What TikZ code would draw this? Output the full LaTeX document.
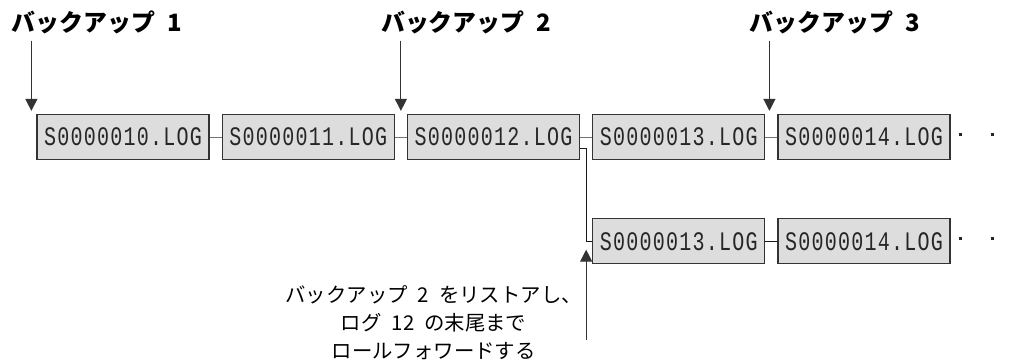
\documentclass[tikz,border=0pt]{standalone}
\usepackage{fontspec}
\setmainfont[WordSpace=2.2]{Noto Sans CJK JP}
\newfontfamily\logfont[FakeStretch=0.75, LetterSpace=4.6]{Liberation Mono}
\usetikzlibrary{arrows.meta,positioning,calc}

\begin{document}
\begin{tikzpicture}[x=1cm,y=1cm,>=Stealth, node distance=0.3cm]
  \tikzset{
    logfile/.style={draw=black!80, line width=0.9pt, fill=gray!27, minimum width=4.3cm, minimum height=1.125cm, inner sep=0pt, text=black!85, font=\logfont\fontsize{19}{20}\selectfont},
    link/.style={draw=black!55, line width=0.7pt},
    branch/.style={draw=black!90, line width=0.7pt},
    pointer/.style={-{Triangle[width=3mm,length=3mm]}, line width=0.8pt, draw=black!80, fill=black!90},
    title/.style={font=\bfseries\fontsize{17}{19}\selectfont, inner sep=0pt, anchor=west},
    annot/.style={align=center, font=\fontsize{14.5}{20}\selectfont, inner sep=0pt}
  }
  \useasboundingbox (0,0) rectangle (25.375,9);
  % main chain of logs
  \node[logfile] (log10) at (3.075,5.575) {S0000010.LOG};
  \node[logfile, right=of log10] (log11) {S0000011.LOG};
  \node[logfile, right=of log11] (log12) {S0000012.LOG};
  \node[logfile, right=of log12] (log13) {S0000013.LOG};
  \node[logfile, right=of log13] (log14) {S0000014.LOG};
  \foreach \a/\b in {log10/log11, log11/log12, log12/log13, log13/log14}
    \draw[link] (\a) -- (\b);
  % new chain after the restore
  \node[logfile, below=1.45cm of log13] (log13b) {S0000013.LOG};
  \node[logfile, right=of log13b] (log14b) {S0000014.LOG};
  \draw[branch] (log13b) -- (log14b);
  \draw[branch] ([yshift=-0.275cm]log12.east) -- ++(0.15,0) |- (log13b.west);
  \foreach \n in {log14, log14b}{
    \fill[black!85] ($(\n.east)+(0.2,0.025)$) rectangle ++(0.08,0.08);
    \fill[black!85] ($(\n.east)+(1.0,0.025)$) rectangle ++(0.08,0.08);
  }
  % backups
  \coordinate (tip1) at ($(log10.north west)+(-0.125,0.075)$);
  \coordinate (tip2) at ($(log12.north west)+(-0.15,0.075)$);
  \coordinate (tip3) at ($(log14.north west)+(-0.2,0.075)$);
  \foreach \i in {1,2,3}{
    \node[title] (bk\i) at ($(tip\i)+(-0.5,2.2)$) {バックアップ \i};
    \draw[pointer] ($(tip\i |- bk\i.south)+(0,-0.15)$) -- (tip\i);
  }
  % restore note
  \coordinate (rtip) at ($(log13b.west)+(-0.15,-0.21)$);
  \coordinate (rfoot) at ($(rtip)+(0,-2.25)$);
  \node[annot, anchor=east] (note) at ($(rfoot)+(-0.1,0.425)$) {バックアップ 2 をリストアし、\\ログ 12 の末尾まで\\ロールフォワードする};
  \draw[pointer] (rfoot) -- (rtip);
\end{tikzpicture}
\end{document}
